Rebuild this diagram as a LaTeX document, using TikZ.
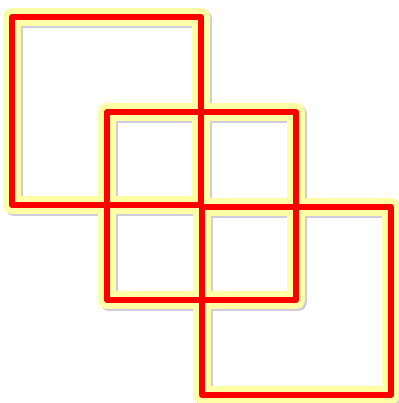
\documentclass[tikz,border=0pt]{standalone}
\usepackage{xcolor}
\definecolor{glowyellow}{RGB}{255,255,165}
\definecolor{framered}{RGB}{255,0,0}
\definecolor{shadowgray}{RGB}{205,205,220}

\begin{document}
\begin{tikzpicture}[x=1pt,y=-1pt,
  shade/.style={draw=shadowgray,line width=18pt,line join=round},
  glow/.style={draw=glowyellow,line width=18pt,line join=round},
  frame/.style={draw=framered,line width=6pt,line join=round},
]
\useasboundingbox (0,0) rectangle (398,403);

%% Shadow under the glow
\foreach \x/\y in {12/17,107/112,202/207}
  \draw[shade] (\x+2,\y+2) rectangle ++(189,188);

%% Yellow glow
\foreach \x/\y in {12/17,107/112,202/207}
  \draw[glow] (\x,\y) rectangle ++(189,188);

%% Red squares
\foreach \x/\y in {12/17,107/112,202/207}
  \draw[frame] (\x,\y) rectangle ++(189,188);

\end{tikzpicture}
\end{document}
